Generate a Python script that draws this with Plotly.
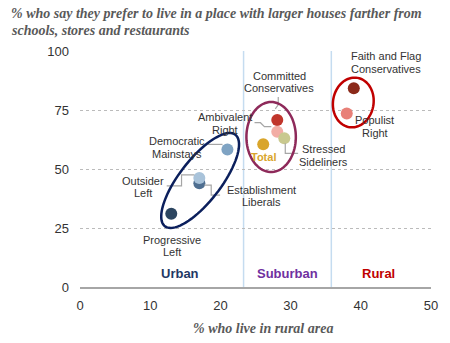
import numpy as np
import plotly.graph_objects as go

# ---------------- data ----------------
groups = ["Progressive Left", "Establishment Liberals", "Outsider Left", "Democratic Mainstays",
          "Total", "Committed Conservatives", "Ambivalent Right", "Stressed Sideliners",
          "Populist Right", "Faith and Flag Conservatives"]
pct_rural = [13, 17, 17, 21, 26.1, 28.1, 28.1, 29.1, 38.0, 39.0]
pct_prefer_larger = [31, 44, 46.2, 58.3, 60.5, 70.8, 65.8, 63.0, 73.5, 84.2]
colors = ["#2C4560", "#4F6F91", "#A9C3DA", "#7FA3C3",
          "#D9A52B", "#C0352B", "#F2ADA5", "#C9C98F",
          "#E88078", "#8B2A1A"]
x_ticks = [0, 10, 20, 30, 40, 50]
y_ticks = [0, 25, 50, 75, 100]
region_bounds = [23.3, 35.8]

# ---------------- geometry helpers ----------------
W, H = 450, 343
L, R, T, B = 80, 15, 51, 56
XR = (0, 50)
YR = (0, 100)
sx = (W - L - R) / (XR[1] - XR[0])   # px per x unit
sy = (H - T - B) / (YR[1] - YR[0])   # px per y unit


def off(xd, yd, dxp, dyp):
    """point in data + pixel offset (screen, dy down) -> data"""
    return xd + dxp / sx, yd - dyp / sy


def ellipse_path(cx, cy, a, b, theta_deg, n=80):
    th = np.radians(theta_deg)
    t = np.linspace(0, 2 * np.pi, n)
    dx = a * np.cos(t) * np.cos(th) - b * np.sin(t) * np.sin(th)
    dy = a * np.cos(t) * np.sin(th) + b * np.sin(t) * np.cos(th)
    xs = cx + dx / sx
    ys = cy + dy / sy
    p = "M %f,%f " % (xs[0], ys[0])
    p += " ".join("L %f,%f" % (x, y) for x, y in zip(xs[1:], ys[1:]))
    return p + " Z"


fig = go.Figure()

# leader lines (pixel offsets relative to each point)
leaders = {
    "Democratic Mainstays": [(-20, -5), (-5, -5)],
    "Outsider Left": [(-33, 8), (-18, 8), (-18, -3), (-5, -3)],
    "Establishment Liberals": [(5, 2), (12, 2), (12, 12), (21, 12)],
    "Committed Conservatives": [(1, -23), (1, -15), (-2, -11)],
    "Ambivalent Right": [(-23, -9), (-17, -9), (-13, -5), (-6, -5)],
    "Stressed Sideliners": [(1, 5), (1, 15), (14, 15)],
}
shapes = []
for g, pts in leaders.items():
    i = groups.index(g)
    xy = [off(pct_rural[i], pct_prefer_larger[i], dx, dy) for dx, dy in pts]
    path = "M %f,%f " % xy[0] + " ".join("L %f,%f" % p for p in xy[1:])
    shapes.append(dict(type="path", path=path, xref="x", yref="y",
                       line=dict(color="#A6A6A6", width=1.2), layer="above"))

# region boundary lines
for xb in region_bounds:
    shapes.append(dict(type="line", x0=xb, x1=xb, y0=0, y1=103, xref="x", yref="y",
                       line=dict(color="#C5DCF0", width=1.5), layer="below"))

# points
for i, g in enumerate(groups):
    fig.add_trace(go.Scatter(x=[pct_rural[i]], y=[pct_prefer_larger[i]], mode="markers",
                             marker=dict(size=12, color=colors[i], line=dict(width=0)),
                             name=g, showlegend=False, hoverinfo="text", text=[g]))

# ellipses (center in data, radii in px)
cxn, cyn = (201.5 - L) / sx, (H - B - 180.5) / sy
shapes.append(dict(type="path", path=ellipse_path(cxn, cyn, 58, 21, 52), xref="x", yref="y",
                   line=dict(color="#0B1F5C", width=2.5), layer="above"))
cxs, cys = (273.3 - L) / sx, (H - B - 137) / sy
shapes.append(dict(type="path", path=ellipse_path(cxs, cys, 35, 25, 90), xref="x", yref="y",
                   line=dict(color="#8E2A5A", width=2.5), layer="above"))
cxr, cyr = (356.4 - L) / sx, (H - B - 102.5) / sy
shapes.append(dict(type="path", path=ellipse_path(cxr, cyr, 25, 20.5, 80), xref="x", yref="y",
                   line=dict(color="#C00000", width=2.5), layer="above"))

annotations = []
label_font = dict(family="Liberation Sans, Arial, sans-serif", size=11, color="#333333")


def add_label(text, i, dx, dy, font=label_font, spacing=12.5):
    lines = text.split("\n")
    n = len(lines)
    for k, ln in enumerate(lines):
        yo = dy + (k - (n - 1) / 2) * spacing
        annotations.append(dict(x=pct_rural[i], y=pct_prefer_larger[i], xref="x", yref="y",
                                text=ln, showarrow=False, xshift=dx, yshift=-yo,
                                font=font, xanchor="center", yanchor="middle"))


label_text = {
    "Progressive Left": ("Progressive\nLeft", 1, 32),
    "Establishment Liberals": ("Establishment\nLiberals", 62, 13),
    "Outsider Left": ("Outsider\nLeft", -56, 9),
    "Democratic Mainstays": ("Democratic\nMainstays", -50, -2),
    "Committed Conservatives": ("Committed\nConservatives", 2, -38),
    "Ambivalent Right": ("Ambivalent\nRight", -52, -8),
    "Stressed Sideliners": ("Stressed\nSideliners", 39, 17),
    "Populist Right": ("Populist\nRight", 28, 13),
    "Faith and Flag Conservatives": ("Faith and Flag\nConservatives", 32, -26),
}
for g, (t, dx, dy) in label_text.items():
    add_label(t, groups.index(g), dx, dy)
add_label("<b>Total</b>", groups.index("Total"), 0, 13,
          font=dict(family="Liberation Sans, Arial, sans-serif", size=11, color="#D9A52B"))

# region names
for name, xp, col in [("Urban", 181, "#1F3864"), ("Suburban", 290, "#7030A0"), ("Rural", 381.7, "#C00000")]:
    annotations.append(dict(x=(xp - L) / sx, y=(H - B - 273.3) / sy, xref="x", yref="y",
                            text="<b>%s</b>" % name, showarrow=False,
                            font=dict(family="Liberation Sans, Arial, sans-serif", size=13, color=col)))

# titles
title_font = dict(family="Liberation Serif, Times New Roman, serif", size=14, color="#595959",
                  style="italic", weight="bold")
for txt, yp in [("% who say they prefer to live in a place with larger houses farther from", 13),
                ("schools, stores and restaurants", 30)]:
    annotations.append(dict(x=(8 - L) / (W - L - R), y=(H - B - yp) / (H - T - B), xref="paper", yref="paper",
                            text=txt, showarrow=False, xanchor="left", yanchor="middle", font=title_font))
annotations.append(dict(x=(265 - L) / (W - L - R), y=(H - B - 328) / (H - T - B), xref="paper", yref="paper",
                        text="% who live in rural area", showarrow=False, xanchor="center", yanchor="middle",
                        font=title_font))

fig.update_layout(
    width=W, height=H, margin=dict(l=L, r=R, t=T, b=B),
    paper_bgcolor="white", plot_bgcolor="white",
    shapes=shapes, annotations=annotations, showlegend=False,
    xaxis=dict(range=list(XR), tickvals=x_ticks, showgrid=False, zeroline=False,
               showline=True, linecolor="#A6A6A6", linewidth=1.5, ticks="",
               tickfont=dict(family="Liberation Sans, Arial, sans-serif", size=13, color="#333333"),
               ticklabelstandoff=6, fixedrange=True),
    yaxis=dict(range=list(YR), tickvals=y_ticks, showgrid=True, gridcolor="#BBBBBB", griddash="dot",
               gridwidth=1, zeroline=False, showline=False, ticks="",
               tickfont=dict(family="Liberation Sans, Arial, sans-serif", size=13, color="#333333"),
               ticklabelstandoff=10, fixedrange=True),
)

fig.write_html("out.html")
